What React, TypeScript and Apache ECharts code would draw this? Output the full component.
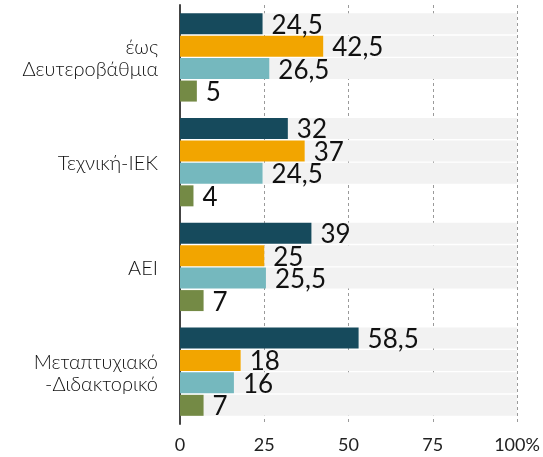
import React, { useEffect, useRef } from "react";
import * as echarts from "echarts";

const categories = ["έως\nΔευτεροβάθμια", "Τεχνική-ΙΕΚ", "ΑΕΙ", "Μεταπτυχιακό\n-Διδακτορικό"];
const seriesNames = ["Α", "Β", "Γ", "Δ"];
const colors = ["#164A5C", "#F2A500", "#75B8BE", "#748A45"];
// bar lengths as drawn in the picture
const valuesA = [24.5, 32, 39, 53];
const valuesB = [42.5, 37, 25, 18];
const valuesC = [26.5, 24.5, 25.5, 16];
const valuesD = [5, 4, 7, 7];
// labels as printed in the picture
const labelsA = ["24,5", "32", "39", "58,5"];
const labelsB = ["42,5", "37", "25", "18"];
const labelsC = ["26,5", "24,5", "25,5", "16"];
const labelsD = ["5", "4", "7", "7"];
// which category rows have the grey band behind them, per series
const bandA = [true, true, true, true];
const bandB = [true, true, true, true];
const bandC = [true, true, true, true];
const bandD = [false, false, false, true];
const xTicks = [0, 25, 50, 75, 100];

const FONT = "Lato, 'Noto Sans', sans-serif";

export default function App() {
  const ref = useRef<HTMLDivElement>(null);
  useEffect(() => {
    if (!ref.current) return;
    const chart = echarts.init(ref.current, undefined, { renderer: "svg" });
    const vals = [valuesA, valuesB, valuesC, valuesD];
    const labs = [labelsA, labelsB, labelsC, labelsD];
    const bands = [bandA, bandB, bandC, bandD];
    const series: any[] = [];
    vals.forEach((v, i) => {
      series.push({
        name: seriesNames[i],
        type: "bar",
        stack: "s" + i,
        data: v,
        barWidth: 21,
        barGap: "7%",
        z: 3,
        itemStyle: { color: colors[i] },
        label: {
          show: true,
          position: "right",
          distance: 9,
          fontSize: 26,
          fontWeight: "normal",
          fontFamily: FONT,
          color: "#111",
          formatter: (p: any) => labs[i][p.dataIndex],
        },
      });
      series.push({
        name: seriesNames[i] + "-bg",
        type: "bar",
        stack: "s" + i,
        data: v.map((x, j) => (bands[i][j] ? 100 - x : 0)),
        barWidth: 21,
        barGap: "7%",
        z: 1,
        silent: true,
        itemStyle: { color: "#F2F2F2" },
        label: { show: false },
      });
    });
    chart.setOption({
      animation: false,
      grid: { left: 180, right: 26, top: 5, bottom: 33, containLabel: false },
      xAxis: {
        type: "value",
        min: 0,
        max: 100,
        interval: 25,
        axisLine: { show: false },
        axisTick: { show: false },
        splitLine: {
          show: true,
          lineStyle: { type: [3, 3], color: "#9a9a9a", width: 1 },
        },
        axisLabel: {
          fontSize: 18,
          fontWeight: "normal",
          fontFamily: FONT,
          color: "#222",
          margin: 11,
          formatter: (v: number) => (xTicks.includes(v) ? (v === 100 ? "100%" : String(v)) : ""),
        },
      },
      yAxis: {
        type: "category",
        data: categories,
        inverse: true,
        axisLine: { show: true, lineStyle: { color: "#444", width: 2 } },
        axisTick: { show: false },
        axisLabel: {
          fontSize: 20,
          fontWeight: 300,
          fontFamily: FONT,
          color: "#111",
          margin: 22,
          lineHeight: 22,
          align: "right",
        },
      },
      series,
    });
    return () => chart.dispose();
  }, []);
  return <div ref={ref} style={{ position: "fixed", left: 0, top: 0, width: 543, height: 457 }} />;
}
